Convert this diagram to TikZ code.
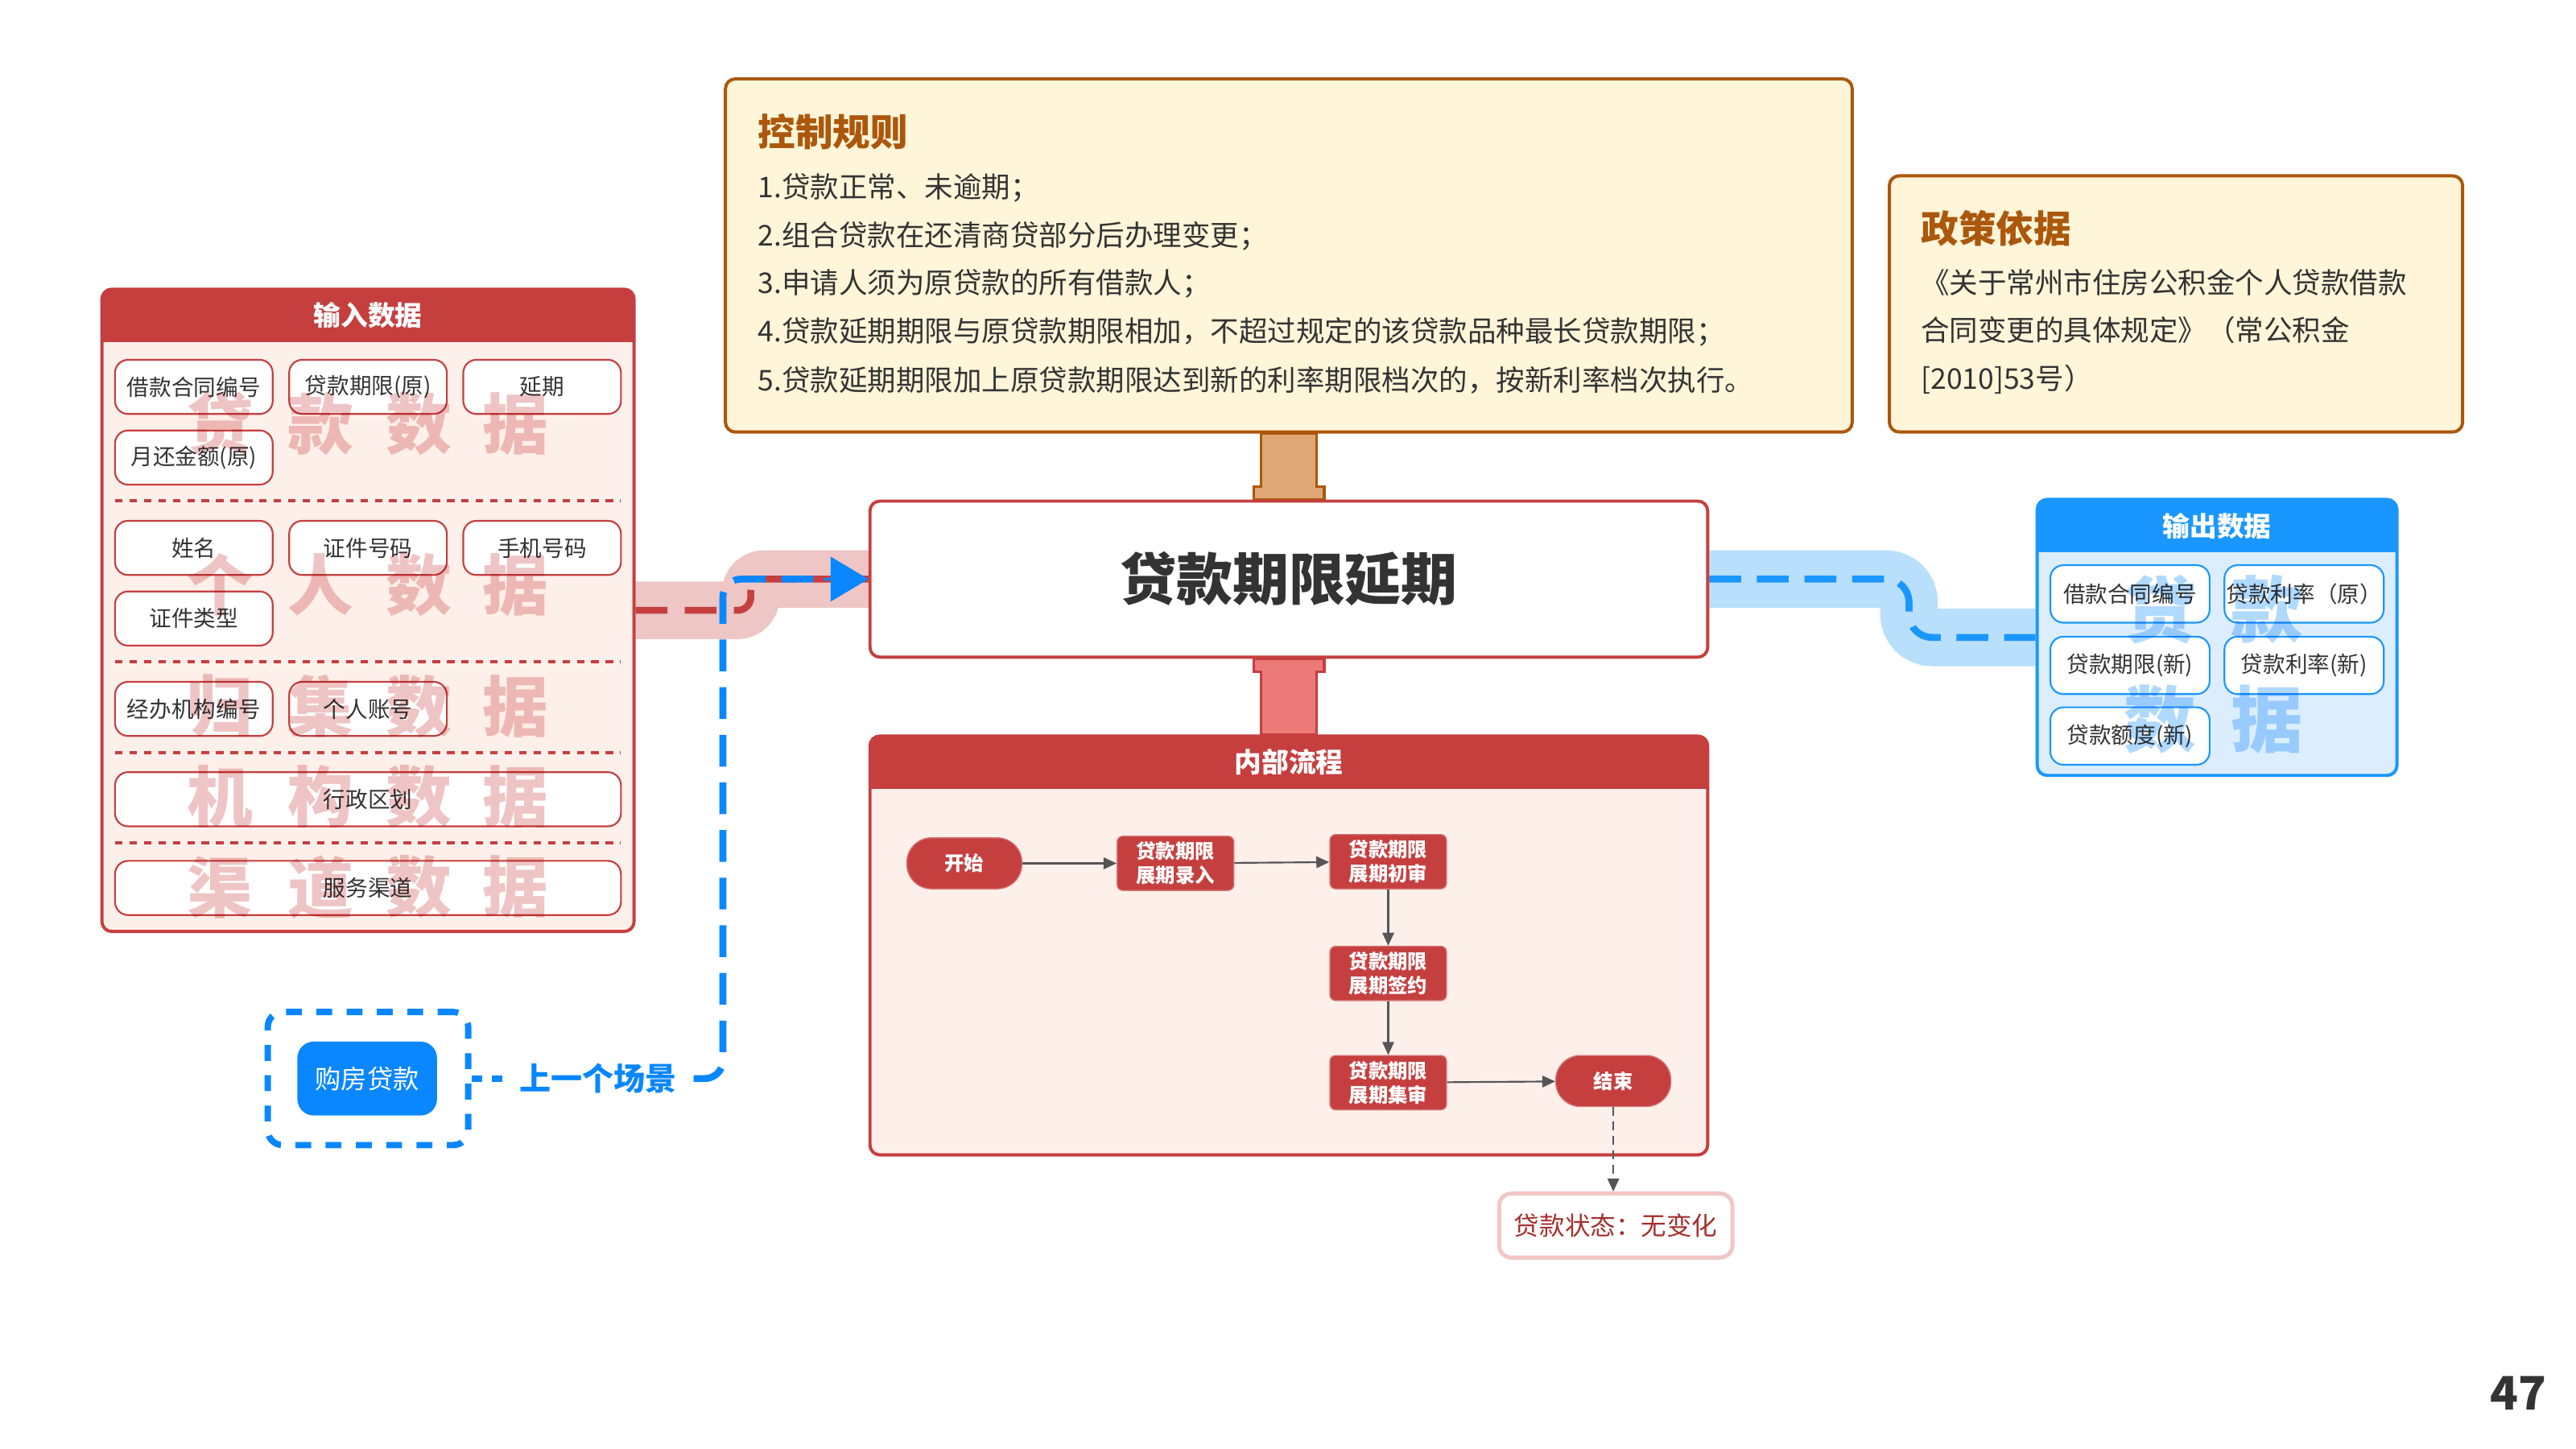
\documentclass[tikz,border=0pt]{standalone}
\usepackage{fontspec}
\setmainfont{Noto Sans CJK SC}
\usetikzlibrary{arrows.meta}

\definecolor{inred}{HTML}{C53F3F}
\definecolor{inbody}{HTML}{FDEFEA}
\definecolor{wmpink}{HTML}{EFC4C4}
\definecolor{bandpink}{HTML}{EDC6C5}
\definecolor{linkpink}{HTML}{EC7A78}
\definecolor{linktan}{HTML}{DFA775}
\definecolor{rulebrown}{HTML}{AB570C}
\definecolor{rulebody}{HTML}{FFF5D9}
\definecolor{outblue}{HTML}{1A97FF}
\definecolor{outbody}{HTML}{DCEEFE}
\definecolor{bandblue}{HTML}{B8DFFC}
\definecolor{wmblue}{HTML}{B0D9FF}
\definecolor{buyblue}{HTML}{0A87FF}
\definecolor{txtgray}{HTML}{333333}
\definecolor{statred}{HTML}{A52F2C}
\definecolor{statedge}{HTML}{F2C6C6}
\definecolor{flowline}{HTML}{555555}

\pgfdeclarelayer{background}
\pgfsetlayers{background,main}

\tikzset{
  panel/.style 2 args={draw=#1, fill=#2, line width=1.1pt, rounded corners=0.12cm, inner sep=0pt,
    path picture={\fill[#1, sharp corners] (path picture bounding box.north west)
      rectangle ([yshift=-0.64cm]path picture bounding box.north east);}},
  paneltitle/.style={text=white, inner sep=0pt, font=\fontsize{9.4}{11}\selectfont\bfseries},
  initem/.style={draw=inred, fill=white, line width=0.6pt, rounded corners=0.16cm,
    minimum width=1.92cm, minimum height=0.66cm, inner sep=0pt, text=txtgray,
    font=\fontsize{7.7}{9}\selectfont},
  outitem/.style={initem, draw=outblue, minimum width=1.94cm, minimum height=0.7cm},
  sepline/.style={draw=inred, line width=1.1pt, dash pattern=on 2.6pt off 2.4pt},
  wmred/.style={text=wmpink, blend mode=multiply, inner sep=0pt,
    font=\fontsize{22.8}{24}\selectfont\bfseries},
  wmout/.style={wmred, text=wmblue, font=\fontsize{25}{27}\selectfont\bfseries},
  notebox/.style={draw=rulebrown, fill=rulebody, line width=1.1pt, rounded corners=0.12cm, inner sep=0pt},
  notetitle/.style={anchor=west, inner sep=0pt, text=rulebrown, font=\fontsize{13}{15}\selectfont\bfseries},
  notetext/.style={anchor=west, inner sep=0pt, text=txtgray, font=\fontsize{9.9}{12}\selectfont},
  mainbox/.style={draw=inred, fill=white, line width=1.1pt, rounded corners=0.12cm,
    minimum width=10.2cm, minimum height=1.9cm, text=txtgray,
    font=\fontsize{19.5}{22}\selectfont\bfseries},
  flowbox/.style={fill=inred, draw=inred!75!white, line width=0.4pt, rounded corners=0.07cm,
    minimum width=1.42cm, minimum height=0.66cm, inner sep=0pt, text=white, align=center,
    font=\fontsize{6.8}{8.4}\selectfont\bfseries},
  flowend/.style={flowbox, rounded corners=0.3cm, minimum width=1.4cm, minimum height=0.62cm},
  flowarrow/.style={draw=flowline, line width=0.6pt, -{Triangle[length=4.5pt,width=4pt]}},
  statusbox/.style={draw=statedge, fill=white, line width=1.4pt, rounded corners=0.15cm,
    minimum width=2.84cm, minimum height=0.78cm, inner sep=0pt, text=statred,
    font=\fontsize{8.8}{10}\selectfont},
  buyframe/.style={draw=buyblue, line width=2.2pt, rounded corners=0.18cm,
    dash pattern=on 5.5pt off 5pt, minimum width=2.44cm, minimum height=1.62cm, inner sep=0pt},
  buybox/.style={fill=buyblue, rounded corners=0.2cm, minimum width=1.7cm, minimum height=0.9cm,
    inner sep=0pt, text=white, font=\fontsize{9}{11}\selectfont},
  prevlabel/.style={text=buyblue, inner sep=0.2cm, font=\fontsize{10.9}{12}\selectfont\bfseries},
  bluedash/.style={draw=buyblue, line width=2.4pt, dash pattern=on 11pt off 5.5pt},
  outdash/.style={draw=outblue, line width=2.4pt, dash pattern=on 11pt off 5.5pt},
  reddash/.style={draw=inred, line width=2.4pt, dash pattern=on 11pt off 6pt},
  pinkband/.style={draw=bandpink, line width=0.7cm},
  blueband/.style={draw=bandblue, line width=0.7cm},
  tanlink/.style={fill=linktan, draw=rulebrown, line width=0.9pt},
  pinklink/.style={fill=linkpink, draw=inred, line width=0.9pt}
}

\begin{document}
\begin{tikzpicture}[x=0.02cm,y=-0.02cm]
  \useasboundingbox (0,0) rectangle (1568,882);

  % rules and policy
  \node[notebox, minimum width=13.72cm, minimum height=4.3cm] (rules) at (784.5,155.5) {};
  \node[notetitle] (rulestitle) at (461,80) {控制规则};
  \foreach \t [count=\i] in {1.贷款正常、未逾期；,2.组合贷款在还清商贷部分后办理变更；,3.申请人须为原贷款的所有借款人；,4.贷款延期期限与原贷款期限相加，不超过规定的该贷款品种最长贷款期限；,5.贷款延期期限加上原贷款期限达到新的利率期限档次的，按新利率档次执行。}
    \node[notetext] (rule\i) at (461,85+29.25*\i) {\t};

  \node[notebox, minimum width=6.98cm, minimum height=3.12cm] (policy) at (1324.5,185) {};
  \node[notetitle] (policytitle) at (1169,139) {政策依据};
  \node[notetext] (pol1) at (1169,172) {《关于常州市住房公积金个人贷款借款};
  \node[notetext] (pol2) at (1169,201) {合同变更的具体规定》（常公积金};
  \node[notetext] (pol3) at (1169,231) {[2010]53号）};

  % main task
  \node[mainbox] (main) at (784.5,352.5) {贷款期限延期};

  % input data
  \node[panel={inred}{inbody}, minimum width=6.48cm, minimum height=7.82cm] (inbox) at (224,371.5) {};
  \node[paneltitle] (intitle) at (224,192) {输入数据};
  \node[initem] (contract) at (118,235.5) {借款合同编号};
  \node[initem] (termold) at (224,235.5) {贷款期限(原)};
  \node[initem] (extend) at (330,235.5) {延期};
  \node[initem] (monthly) at (118,278.5) {月还金额(原)};
  \node[initem] (name) at (118,333.5) {姓名};
  \node[initem] (idno) at (224,333.5) {证件号码};
  \node[initem] (phone) at (330,333.5) {手机号码};
  \node[initem] (idtype) at (118,376.5) {证件类型};
  \node[initem] (orgno) at (118,431.5) {经办机构编号};
  \node[initem] (account) at (224,431.5) {个人账号};
  \node[initem, minimum width=6.16cm] (region) at (224,486.5) {行政区划};
  \node[initem, minimum width=6.16cm] (channel) at (224,540.5) {服务渠道};
  \foreach \y in {305,403,458,513}
    \draw[sepline] (70,\y) -- (378,\y);
  \foreach \r/\y/\a/\b in {a/258/贷/款, b/356/个/人, c/430/归/集, d/485/机/构, e/540/渠/道} {
    \node[wmred] (wm\r1) at (134,\y) {\a};
    \node[wmred] (wm\r2) at (195,\y) {\b};
    \node[wmred] (wm\r3) at (255,\y) {数};
    \node[wmred] (wm\r4) at (314,\y) {据};
  }

  % output data
  \node[panel={outblue}{outbody}, minimum width=4.38cm, minimum height=3.36cm] (outbox) at (1349.5,388) {};
  \node[paneltitle] (outtitle) at (1349.5,320.5) {输出数据};
  \node[outitem] (outcontract) at (1296.5,361.5) {借款合同编号};
  \node[outitem] (rateold) at (1402.5,361.5) {贷款利率（原）};
  \node[outitem] (termnew) at (1296.5,405) {贷款期限(新)};
  \node[outitem] (ratenew) at (1402.5,405) {贷款利率(新)};
  \node[outitem] (amountnew) at (1296.5,448) {贷款额度(新)};
  \node[wmout] (wmo1) at (1315,371) {贷};
  \node[wmout] (wmo2) at (1380,371) {款};
  \node[wmout] (wmo3) at (1315,438) {数};
  \node[wmout] (wmo4) at (1380,438) {据};

  % internal process
  \node[panel={inred}{inbody}, minimum width=10.2cm, minimum height=5.1cm] (proc) at (784.5,575.5) {};
  \node[paneltitle] (proctitle) at (784.5,464) {内部流程};
  \node[flowend] (start) at (587,525.5) {开始};
  \node[flowbox] (entry) at (715.5,525.5) {贷款期限\\展期录入};
  \node[flowbox] (firstcheck) at (845,524.5) {贷款期限\\展期初审};
  \node[flowbox] (signing) at (845,592.5) {贷款期限\\展期签约};
  \node[flowbox] (central) at (845,659) {贷款期限\\展期集审};
  \node[flowend] (finish) at (982,658) {结束};
  \draw[flowarrow] (start) -- (entry);
  \draw[flowarrow] (entry) -- (firstcheck);
  \draw[flowarrow] (firstcheck) -- (signing);
  \draw[flowarrow] (signing) -- (central);
  \draw[flowarrow] (central) -- (finish);

  \node[statusbox] (status) at (983.5,746) {贷款状态：无变化};
  \draw[flowarrow, dash pattern=on 3pt off 2pt] (finish.south) -- (finish.south |- status.north);

  % previous scene
  \node[buyframe] (frame) at (224,656.5) {};
  \node[buybox] (buy) at (223.5,656.5) {购房贷款};
  \node[prevlabel] (prev) at (364,656.5) {上一个场景};

  \node[inner sep=0pt, text=txtgray, font=\fontsize{16}{18}\selectfont\bfseries] (pagenum) at (1533,848) {47};

  % links on the background layer
  \begin{pgfonlayer}{background}
    \filldraw[tanlink] ([xshift=-0.34cm]rules.south) -- ([xshift=-0.34cm,yshift=0.16cm]main.north)
      -- ([xshift=-0.43cm,yshift=0.16cm]main.north) -- ([xshift=-0.43cm]main.north)
      -- ([xshift=0.43cm]main.north) -- ([xshift=0.43cm,yshift=0.16cm]main.north)
      -- ([xshift=0.34cm,yshift=0.16cm]main.north) -- ([xshift=0.34cm]rules.south) -- cycle;
    \filldraw[pinklink] ([xshift=-0.34cm]proc.north) -- ([xshift=-0.34cm,yshift=-0.16cm]main.south)
      -- ([xshift=-0.43cm,yshift=-0.16cm]main.south) -- ([xshift=-0.43cm]main.south)
      -- ([xshift=0.43cm]main.south) -- ([xshift=0.43cm,yshift=-0.16cm]main.south)
      -- ([xshift=0.34cm,yshift=-0.16cm]main.south) -- ([xshift=0.34cm]proc.north) -- cycle;

    \draw[pinkband, rounded corners=0.16cm] (inbox.east) -- (457,371.5) -- (457,352.5) -- (main.west);
    \draw[blueband, rounded corners=0.28cm] (main.east) -- (1162,352.5) -- (1162,388) -- (outbox.west);

    \draw[reddash, rounded corners=0.16cm] (inbox.east) -- (457,371.5) -- (457,352.5) -- (main.west);
    \draw[outdash, rounded corners=0.28cm] (main.east) -- (1162,352.5) -- (1162,388) -- (outbox.west);

    \draw[bluedash, dash pattern=on 3.7pt off 3.4pt] (frame.east) -- (prev.west);
    \draw[bluedash, rounded corners=0.22cm] (prev.east) -| (440,352.5) -- ([xshift=-0.5cm]main.west);
    \draw[draw=buyblue, line width=1pt, -{Triangle[length=0.46cm,width=0.54cm]}] ([xshift=-0.55cm]main.west) -- (main.west);
  \end{pgfonlayer}
\end{tikzpicture}
\end{document}
